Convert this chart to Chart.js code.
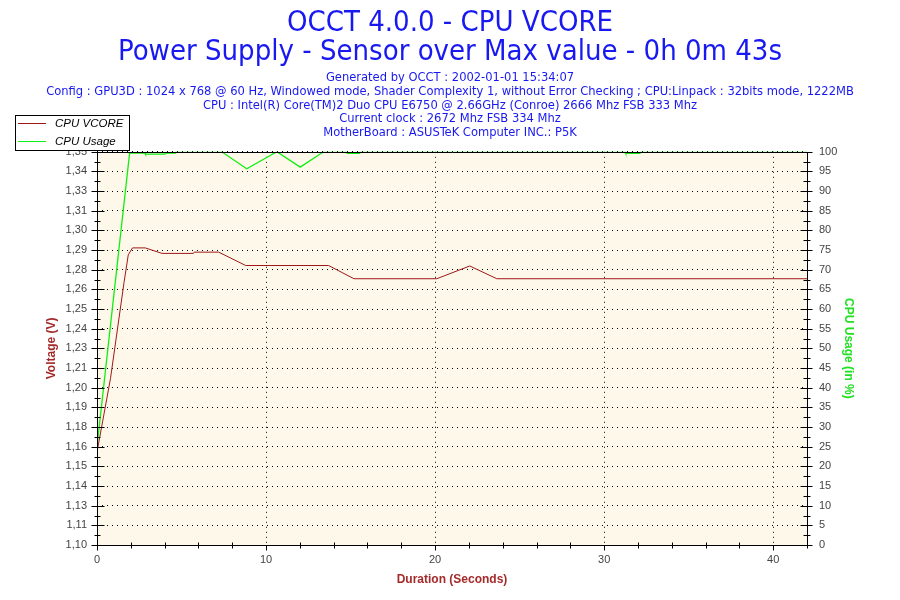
<!DOCTYPE html>
<html>
<head>
<meta charset="utf-8">
<script src="https://cdn.jsdelivr.net/npm/chart.js@4.4.1/dist/chart.umd.min.js"></script>
<style>
  html, body { margin: 0; padding: 0; background: #fff; }
  #wrap { width: 900px; height: 600px; }
</style>
</head>
<body>
<div id="wrap"><canvas id="occtChart" width="900" height="600"></canvas></div>
<script>
// values
var vcoreTime   = [0, 0.8, 1.6, 1.85, 2.1, 2.85, 3.85, 5.7, 5.75, 7.2, 8.8, 13.7, 15.2, 20.1, 22.05, 23.65, 42];
var vcoreValues = [1.159, 1.206, 1.267, 1.2845, 1.2889, 1.2889, 1.2854, 1.2854, 1.2862, 1.2862, 1.2777, 1.2777, 1.2693, 1.2693, 1.2774, 1.2693, 1.2693];

var usageTime   = [0, 1.93, 2.84, 2.87, 4.02, 4.05, 4.62, 4.65, 7.38, 8.86, 10.64, 12.02, 13.4, 14.77, 14.8, 15.53, 15.56, 31.25, 31.28, 32.12, 32.15, 42];
var usageValues = [25, 99.7, 99.7, 99.4, 99.4, 99.7, 99.7, 100, 100, 95.7, 100, 96.1, 100, 100, 99.6, 99.6, 100, 100, 99.6, 99.6, 100, 100];

var voltTickValues = [1.1, 1.1125, 1.125, 1.1375, 1.15, 1.1625, 1.175, 1.1875, 1.2, 1.2125, 1.225,
                      1.2375, 1.25, 1.2625, 1.275, 1.2875, 1.3, 1.3125, 1.325, 1.3375, 1.35];
var voltTickLabels = ['1,10', '1,11', '1,13', '1,14', '1,15', '1,16', '1,18', '1,19', '1,20', '1,21', '1,23',
                      '1,24', '1,25', '1,26', '1,28', '1,29', '1,30', '1,31', '1,33', '1,34', '1,35'];

var titleLines = ['OCCT 4.0.0 - CPU VCORE', 'Power Supply - Sensor over Max value - 0h 0m 43s'];
var infoLines = [
  'Generated by OCCT : 2002-01-01 15:34:07',
  'Config : GPU3D : 1024 x 768 @ 60 Hz, Windowed mode, Shader Complexity 1, without Error Checking ; CPU:Linpack : 32bits mode, 1222MB',
  'CPU : Intel(R) Core(TM)2 Duo CPU E6750 @ 2.66GHz (Conroe) 2666 Mhz FSB 333 Mhz',
  'Current clock : 2672 Mhz FSB 334 Mhz',
  'MotherBoard : ASUSTeK Computer INC.: P5K'
];

function toPoints(xs, ys) {
  return xs.map(function (x, i) { return { x: x, y: ys[i] }; });
}

var RED = '#a01818';
var GREEN = '#10f010';
var BLUE = '#1818f0';
var HEAD_FAMILY = '"DejaVu Sans Condensed", "DejaVu Sans", sans-serif';
var TICK_FONT = { family: 'Liberation Sans', size: 11 };

// plot background
var plotBackground = {
  id: 'plotBackground',
  beforeDraw: function (chart) {
    var a = chart.chartArea, c = chart.ctx;
    c.save();
    c.fillStyle = '#fdf8e9';
    c.fillRect(a.left, a.top, a.right - a.left, a.bottom - a.top);
    c.restore();
  }
};

// frame + tick marks crossing the axes, like the original
var axisFrame = {
  id: 'axisFrame',
  afterDatasetsDraw: function (chart) {
    var a = chart.chartArea, c = chart.ctx;
    var L = Math.round(a.left) + 0.5, R = Math.round(a.right) + 0.5;
    var T = Math.round(a.top) + 0.5, B = Math.round(a.bottom) + 0.5;
    c.save();
    c.strokeStyle = '#000';
    c.lineWidth = 1;
    c.beginPath();
    c.rect(L, T, R - L, B - T);

    var yV = chart.scales.yVolt;
    voltTickValues.forEach(function (v, i) {
      var p = Math.round(yV.getPixelForValue(v)) + 0.5;
      c.moveTo(L - 6, p); c.lineTo(L + 7, p);
      c.moveTo(R - 7, p); c.lineTo(R + 5, p);
      if (i < voltTickValues.length - 1) {
        var m = Math.round(yV.getPixelForValue((v + voltTickValues[i + 1]) / 2)) + 0.5;
        c.moveTo(L - 3, m); c.lineTo(L + 3, m);
        c.moveTo(R - 4, m); c.lineTo(R + 3, m);
      }
    });

    var xs = chart.scales.x;
    xs.ticks.forEach(function (t) {
      var p = Math.round(xs.getPixelForValue(t.value)) + 0.5;
      if (t.value % 10 === 0) { c.moveTo(p, B); c.lineTo(p, B + 5); }
      else { c.moveTo(p, B - 3); c.lineTo(p, B + 3); }
    });
    c.stroke();
    c.restore();
  }
};

// boxed legend top-left
var boxLegend = {
  id: 'boxLegend',
  afterDraw: function (chart) {
    var c = chart.ctx;
    c.save();
    c.fillStyle = '#fff';
    c.fillRect(15.5, 115.5, 114, 35);
    c.strokeStyle = '#000';
    c.lineWidth = 1;
    c.strokeRect(15.5, 115.5, 114, 35);
    c.font = 'italic 11.5px "Liberation Sans"';
    c.textBaseline = 'middle';
    chart.data.datasets.forEach(function (ds, i) {
      var y = 123.5 + i * 18;
      c.strokeStyle = ds.borderColor;
      c.beginPath();
      c.moveTo(18, y); c.lineTo(46, y);
      c.stroke();
      c.fillStyle = '#000';
      c.fillText(ds.label, 55, y);
    });
    c.restore();
  }
};

new Chart(document.getElementById('occtChart'), {
  type: 'line',
  data: {
    datasets: [
      {
        label: 'CPU VCORE',
        data: toPoints(vcoreTime, vcoreValues),
        yAxisID: 'yVolt',
        borderColor: RED,
        borderWidth: 1,
        pointRadius: 0,
        tension: 0
      },
      {
        label: 'CPU Usage',
        data: toPoints(usageTime, usageValues),
        yAxisID: 'yUsage',
        borderColor: GREEN,
        borderWidth: 1.3,
        pointRadius: 0,
        tension: 0
      }
    ]
  },
  options: {
    responsive: false,
    animation: false,
    devicePixelRatio: 1,
    layout: { padding: 0 },
    plugins: {
      legend: { display: false },
      tooltip: { enabled: false },
      title: {
        display: true,
        text: titleLines,
        color: BLUE,
        font: { family: HEAD_FAMILY, size: 29, weight: 'normal', lineHeight: 1.0 },
        padding: { top: 9, bottom: 0 }
      },
      subtitle: {
        display: true,
        text: infoLines,
        color: BLUE,
        font: { family: HEAD_FAMILY, size: 12.8, lineHeight: 1.075 },
        padding: { top: 4, bottom: 12 }
      }
    },
    scales: {
      x: {
        type: 'linear',
        min: 0,
        max: 42,
        afterFit: function (axis) { axis.height = 55; },
        border: { display: false, dash: [1, 4] },
        grid: {
          drawTicks: false,
          color: function (ctx) { return ctx.tick && ctx.tick.value % 10 === 0 ? '#000' : 'rgba(0,0,0,0)'; }
        },
        ticks: {
          stepSize: 2,
          autoSkip: false,
          maxRotation: 0,
          padding: 8,
          color: '#444',
          font: TICK_FONT,
          callback: function (v) { return v % 10 === 0 ? String(v) : ''; }
        },
        title: {
          display: true,
          text: 'Duration (Seconds)',
          color: '#a52a2a',
          font: { family: 'Liberation Sans', size: 12, weight: 'bold' },
          padding: { top: 0, bottom: 13 }
        }
      },
      yVolt: {
        type: 'linear',
        position: 'left',
        min: 1.10,
        max: 1.35,
        afterFit: function (axis) { axis.width = 97; },
        afterBuildTicks: function (axis) {
          axis.ticks = voltTickValues.map(function (v) { return { value: v }; });
        },
        border: { display: false, dash: [1, 4] },
        grid: { drawTicks: false, color: '#000' },
        ticks: {
          padding: 10,
          color: '#444',
          font: TICK_FONT,
          callback: function (v, i) { return voltTickLabels[i]; }
        },
        title: {
          display: true,
          text: 'Voltage (V)',
          color: '#a52a2a',
          font: { family: 'Liberation Sans', size: 12, weight: 'bold' },
          padding: { top: 44, bottom: 0 }
        }
      },
      yUsage: {
        type: 'linear',
        position: 'right',
        min: 0,
        max: 100,
        afterFit: function (axis) { axis.width = 93; },
        border: { display: false },
        grid: { drawTicks: false, drawOnChartArea: false },
        ticks: {
          stepSize: 5,
          padding: 12,
          color: '#444',
          font: TICK_FONT
        },
        title: {
          display: true,
          text: 'CPU Usage (in %)',
          color: '#22e022',
          font: { family: 'Liberation Sans', size: 12, weight: 'bold' },
          padding: { top: 44, bottom: 0 }
        }
      }
    }
  },
  plugins: [plotBackground, axisFrame, boxLegend]
});
</script>
</body>
</html>
